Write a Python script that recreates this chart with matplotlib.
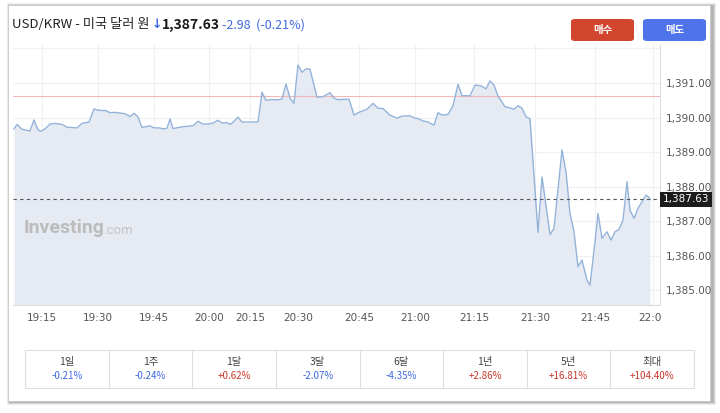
import matplotlib
matplotlib.use("Agg")
import matplotlib.pyplot as plt
from matplotlib.patches import Rectangle, FancyBboxPatch
from matplotlib.transforms import Bbox, TransformedBbox, blended_transform_factory

plt.rcParams['font.family'] = ['Noto Sans CJK KR', 'DejaVu Sans']

# price series (x = sample position along the compressed intraday axis)
pos = [0, 3, 8, 16, 20, 24, 27, 31, 36, 41, 48, 53, 63, 68, 75, 80, 84, 92, 96, 101,
       111, 116, 120, 124, 128, 136, 140, 145, 150, 153, 156, 159, 168, 174, 179, 184,
       189, 194, 199, 204, 208, 213, 216, 219, 224, 228, 244, 248, 252, 258, 264, 268,
       272, 276, 280, 284, 288, 292, 296, 303, 309, 316, 320, 324, 335, 340, 345, 353,
       359, 364, 369, 376, 383, 388, 396, 401, 404, 409, 414, 420, 424, 428, 434, 439,
       444, 448, 456, 461, 467, 472, 476, 480, 484, 491, 496, 500, 504, 508, 512, 516,
       524, 528, 536, 540, 548, 552, 556, 560, 564, 568, 573, 576, 581, 584, 588, 593,
       597, 601, 605, 609, 613, 616, 620, 624, 629, 632, 635, 636]
price = [1389.67, 1389.80, 1389.66, 1389.61, 1389.93, 1389.64, 1389.60, 1389.67, 1389.81, 1389.83,
         1389.80, 1389.72, 1389.70, 1389.83, 1389.87, 1390.25, 1390.21, 1390.20, 1390.14, 1390.15,
         1390.11, 1390.03, 1390.12, 1390.02, 1389.71, 1389.76, 1389.70, 1389.70, 1389.67, 1389.69,
         1389.96, 1389.68, 1389.73, 1389.75, 1389.76, 1389.89, 1389.81, 1389.81, 1389.84, 1389.92,
         1389.84, 1389.85, 1389.80, 1389.86, 1390.01, 1389.87, 1389.87, 1390.73, 1390.50, 1390.52,
         1390.51, 1390.54, 1390.97, 1390.56, 1390.41, 1391.52, 1391.31, 1391.41, 1391.40, 1390.59,
         1390.60, 1390.72, 1390.56, 1390.52, 1390.53, 1390.07, 1390.15, 1390.24, 1390.41, 1390.27,
         1390.26, 1390.07, 1389.98, 1390.04, 1390.05, 1389.98, 1389.97, 1389.90, 1389.87, 1389.78,
         1390.14, 1390.07, 1390.09, 1390.34, 1390.96, 1390.63, 1390.63, 1390.94, 1390.92, 1390.83,
         1391.06, 1390.94, 1390.62, 1390.31, 1390.28, 1390.24, 1390.34, 1390.27, 1390.02, 1389.96,
         1386.67, 1388.28, 1386.61, 1386.79, 1389.06, 1388.43, 1387.22, 1386.69, 1385.68, 1385.87,
         1385.29, 1385.14, 1386.40, 1387.22, 1386.50, 1386.69, 1386.45, 1386.69, 1386.76, 1387.03,
         1388.14, 1387.32, 1387.08, 1387.37, 1387.61, 1387.75, 1387.69, 1387.63]

tick_pos = [28, 84, 140, 195, 236, 284, 345, 401, 460, 521, 581, 639]
tick_labels = ["19:15", "19:30", "19:45", "20:00", "20:15", "20:30", "20:45",
               "21:00", "21:15", "21:30", "21:45", "22:00"]
y_ticks = [1385, 1386, 1387, 1388, 1389, 1390, 1391]

last_price = 1387.63
prev_close = 1390.61
change = "-2.98"
change_pct = "(-0.21%)"

periods = ["1일", "1주", "1달", "3달", "6달", "1년", "5년", "최대"]
period_returns = ["-0.21%", "-0.24%", "+0.62%", "-2.07%", "-4.35%", "+2.86%", "+16.81%", "+104.40%"]

W, H = 720, 413
def fx(px):
    return px / W
def fy(py):
    return 1 - py / H

fig = plt.figure(figsize=(7.2, 4.13), dpi=100)
fig.patch.set_facecolor("white")

# card with a soft shadow
for i, a in enumerate([0.10, 0.15, 0.25]):
    d = 3 - i
    fig.add_artist(Rectangle((fx(8 - d + 2), fy(402 + d)), fx(703 + 2 * d), (396 + 2 * d) / H,
                             transform=fig.transFigure, facecolor="#555555", alpha=a,
                             edgecolor="none", zorder=0))
fig.add_artist(Rectangle((fx(8), fy(401)), fx(702), 396 / H, transform=fig.transFigure,
                         facecolor="white", edgecolor="#c8c8c8", linewidth=0.6, zorder=1))

ax = fig.add_axes([fx(13), fy(305), fx(647), (305 - 45) / H])
ax.set_zorder(2)
ax.patch.set_alpha(0)

ymin, ymax = 1384.57, 1392.10
ax.fill_between(pos, price, ymin, color="#e6eaf2", linewidth=0, zorder=1)
ax.plot(pos, price, color="#94b3da", linewidth=1.0, zorder=3)

ax.axhline(prev_close, color="#f2b8b8", linewidth=0.8, zorder=2)
ax.axhline(last_price, color="#555555", linewidth=0.8, linestyle=(0, (3, 3)), zorder=4)

ax.set_xlim(-1, 646)
ax.set_ylim(ymin, ymax)
ax.set_xticks(tick_pos)
ax.set_xticklabels(tick_labels)
ax.set_yticks(y_ticks + [1392])
ax.set_yticklabels([f"{v:,.2f}" for v in y_ticks] + [""])
ax.yaxis.tick_right()
ax.grid(True, color="#eef0f3", linewidth=0.8, zorder=0)
ax.set_axisbelow(True)
ax.tick_params(axis="both", length=0, labelsize=7.5, labelcolor="#555555")
ax.tick_params(axis="x", pad=6)
ax.tick_params(axis="y", pad=4)
for lbl in ax.get_xticklabels() + ax.get_yticklabels():
    lbl.set_fontfamily(["DejaVu Sans"])
for s in ["top", "left"]:
    ax.spines[s].set_visible(False)
ax.spines["bottom"].set_color("#dddddd")
ax.spines["right"].set_color("#dddddd")

# the last x label is cut at the right edge of the plot
clip = TransformedBbox(Bbox([[0, 0], [fx(661), 1]]), fig.transFigure)
for lbl in ax.get_xticklabels():
    lbl.set_clip_box(clip)
    lbl.set_clip_on(True)

# last price tag on the axis
tr = blended_transform_factory(ax.transAxes, ax.transData)
ax.text(1.004, last_price, f"{last_price:,.2f}", transform=tr, ha="left", va="center",
        fontsize=7.5, color="white", family=["DejaVu Sans"], zorder=6, clip_on=False,
        bbox=dict(boxstyle="square,pad=0.25", facecolor="#1c1c1c", edgecolor="none"))

# watermark
ax.text(0.017, 0.296, "Investing", transform=ax.transAxes, fontsize=14, fontweight="bold",
        color="#bcbcbc", family=["Roboto"], va="center", zorder=5)
ax.text(0.139, 0.287, ".com", transform=ax.transAxes, fontsize=9.5, color="#c4c4c4",
        family=["Roboto"], va="center", zorder=5)

# header
fig.text(fx(12), fy(25), "USD/KRW - 미국 달러 원", fontsize=9.5, color="#222222",
         va="center", zorder=5)
fig.text(fx(152), fy(25), "↓", fontsize=9, fontweight="bold", color="#3f68e0",
         va="center", family=["DejaVu Sans"], zorder=5)
fig.text(fx(162), fy(25), f"{last_price:,.2f}", fontsize=10, fontweight="bold",
         color="#1a1a1a", va="center", zorder=5)
fig.text(fx(222), fy(25), f"{change}  {change_pct}", fontsize=9, fontweight="medium",
         color="#3f68e0", va="center", zorder=5)

for x0, label, col in [(571, "매수", "#d2452f"), (643, "매도", "#4f74ea")]:
    fig.add_artist(FancyBboxPatch((fx(x0), fy(41)), fx(63), 22 / H,
                                  boxstyle="round,pad=0,rounding_size=0.006",
                                  transform=fig.transFigure, facecolor=col,
                                  edgecolor="none", zorder=3))
    fig.text(fx(x0 + 31.5), fy(30), label, fontsize=7.5, fontweight="bold", color="white",
             ha="center", va="center", zorder=5)

# performance table
left, right, top, bottom = 25, 694, 350, 388
cw = (right - left) / len(periods)
fig.add_artist(Rectangle((fx(left), fy(bottom)), fx(right - left), (bottom - top) / H,
                         transform=fig.transFigure, facecolor="white", edgecolor="#dedede",
                         linewidth=0.8, zorder=3))
for i, (p, r) in enumerate(zip(periods, period_returns)):
    cx = left + cw * (i + 0.5)
    if i > 0:
        fig.add_artist(plt.Line2D([fx(left + cw * i)] * 2, [fy(top), fy(bottom)],
                                  transform=fig.transFigure, color="#dedede",
                                  linewidth=0.8, zorder=4))
    fig.text(fx(cx), fy(362), p, fontsize=7.5, color="#444444", ha="center", va="center",
             zorder=5)
    col = "#3f68e0" if r.startswith("-") else "#c9352a"
    fig.text(fx(cx), fy(376), r, fontsize=7, color=col, ha="center", va="center",
             zorder=5)

fig.savefig("out.png", dpi=100)
